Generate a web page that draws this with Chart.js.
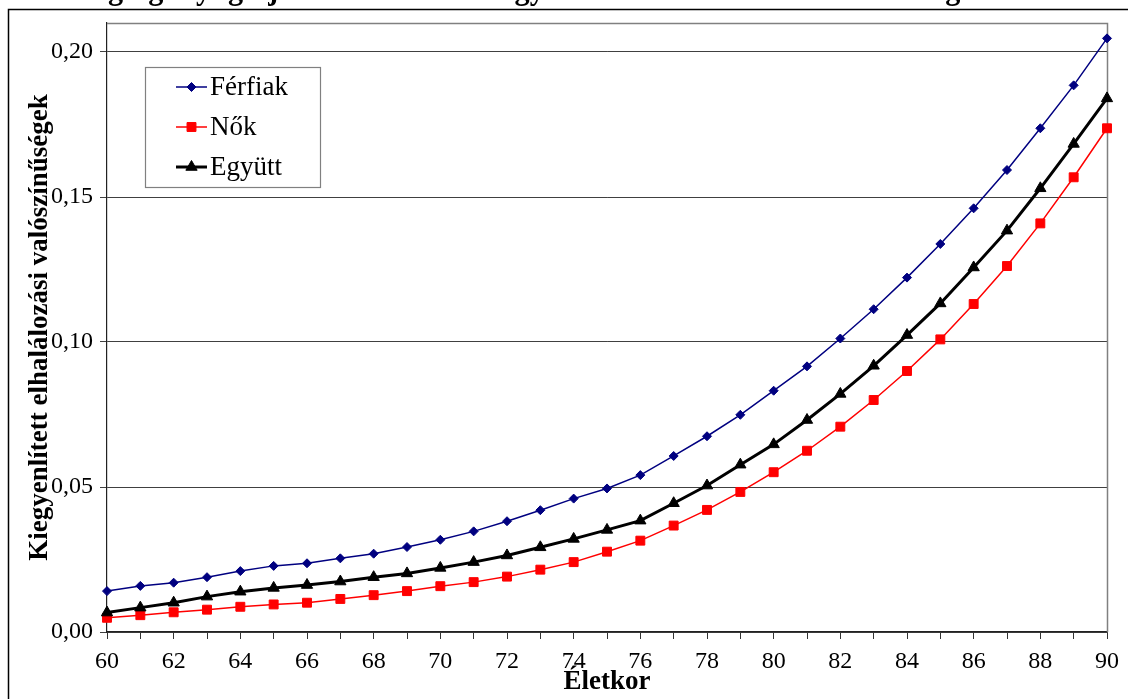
<!DOCTYPE html>
<html>
<head>
<meta charset="utf-8">
<script src="https://cdn.jsdelivr.net/npm/chart.js@4.4.1/dist/chart.umd.min.js"></script>
<style>
  html, body { margin: 0; padding: 0; background: #fff; overflow: hidden; width: 1128px; height: 699px; }
  #wrap { position: absolute; left: 0; top: -20px; width: 1128px; height: 719px; }
</style>
</head>
<body>
<div id="wrap"><canvas id="c"></canvas></div>
<script>
const titleText = 'Az öregségi nyugdíjban részesülők kiegyenlített elhalálozási valószínűségei 2014-ben';
const xTitle = 'Életkor';
const yTitle = 'Kiegyenlített elhalálozási valószínűségek';
const seriesNames = ['Férfiak', 'Nők', 'Együtt'];
const ages = [60,61,62,63,64,65,66,67,68,69,70,71,72,73,74,75,76,77,78,79,80,81,82,83,84,85,86,87,88,89,90];
const ferfiak = [0.0141,0.0159,0.0170,0.0189,0.0210,0.0228,0.0237,0.0254,0.0270,0.0293,0.0318,0.0347,0.0382,0.0420,0.0460,0.0495,0.0541,0.0607,0.0675,0.0749,0.0832,0.0916,0.1012,0.1113,0.1222,0.1338,0.1461,0.1593,0.1737,0.1885,0.2047];
const nok = [0.0049,0.0058,0.0068,0.0077,0.0087,0.0095,0.0101,0.0114,0.0127,0.0141,0.0158,0.0172,0.0191,0.0215,0.0241,0.0277,0.0315,0.0367,0.0421,0.0483,0.0551,0.0625,0.0708,0.0800,0.0900,0.1009,0.1131,0.1262,0.1409,0.1568,0.1737];
const egyutt = [0.0067,0.0084,0.0101,0.0122,0.0139,0.0152,0.0162,0.0174,0.0189,0.0202,0.0221,0.0241,0.0264,0.0292,0.0321,0.0352,0.0384,0.0444,0.0505,0.0577,0.0647,0.0731,0.0821,0.0918,0.1024,0.1133,0.1257,0.1384,0.1530,0.1683,0.1840];
const yTickValues = [0, 0.05, 0.10, 0.15, 0.20];

const FONT = "'Liberation Serif', 'Times New Roman', serif";
Chart.defaults.font.family = FONT;
Chart.defaults.color = '#000';

const toPts = arr => ages.map((a, i) => ({x: a, y: arr[i]}));

const TITLE_SIZE = 33;
const TITLE_PAD_TOP = -9;

const frame = {
  id: 'frame',
  beforeDraw(chart) {
    const ctx = chart.ctx;
    ctx.save();
    ctx.strokeStyle = '#000';
    ctx.lineWidth = 1.5;
    ctx.strokeRect(8.5, 29.5, 1300, 900);
    ctx.restore();
  },
  beforeDatasetsDraw(chart) {
    const {ctx, chartArea: a} = chart;
    ctx.save();
    ctx.strokeStyle = '#808080';
    ctx.lineWidth = 1.5;
    ctx.beginPath();
    ctx.moveTo(a.left, a.top + 0.5);
    ctx.lineTo(a.right + 0.5, a.top + 0.5);
    ctx.lineTo(a.right + 0.5, a.bottom);
    ctx.stroke();
    ctx.restore();
  }
};

const boxLegend = {
  id: 'boxLegend',
  afterDraw(chart) {
    const ctx = chart.ctx;
    const bx = 145.5, by = 87.5, bw = 175, bh = 120;
    ctx.save();
    ctx.fillStyle = '#fff';
    ctx.fillRect(bx, by, bw, bh);
    ctx.strokeStyle = '#808080';
    ctx.lineWidth = 1.2;
    ctx.strokeRect(bx, by, bw, bh);
    chart.data.datasets.forEach((ds, i) => {
      const y = 107 + i * 40;
      ctx.strokeStyle = ds.borderColor;
      ctx.lineWidth = ds.borderWidth;
      ctx.beginPath();
      ctx.moveTo(176, y);
      ctx.lineTo(207, y);
      ctx.stroke();
      ctx.fillStyle = ds.pointBackgroundColor;
      ctx.strokeStyle = ds.borderColor;
      ctx.lineWidth = 1;
      Chart.helpers.drawPoint(ctx, {pointStyle: ds.pointStyle, radius: ds.pointRadius, borderWidth: 1}, 191.5, y);
      ctx.fillStyle = '#000';
      ctx.font = '27px ' + FONT;
      ctx.textAlign = 'left';
      ctx.textBaseline = 'middle';
      ctx.fillText(ds.label, 210, y + 1);
    });
    ctx.restore();
  }
};

new Chart(document.getElementById('c'), {
  type: 'line',
  data: {
    datasets: [
      { label: seriesNames[0], data: toPts(ferfiak), borderColor: '#000080', backgroundColor: '#000080', pointBackgroundColor: '#000080',
        borderWidth: 1.5, pointStyle: 'rectRot', pointRadius: 4.5, pointBorderWidth: 1, tension: 0, clip: false, order: 2 },
      { label: seriesNames[1], data: toPts(nok), borderColor: '#ff0000', backgroundColor: '#ff0000', pointBackgroundColor: '#ff0000',
        borderWidth: 1.5, pointStyle: 'rect', pointRadius: 6.3, pointBorderWidth: 1, tension: 0, clip: false, order: 1 },
      { label: seriesNames[2], data: toPts(egyutt), borderColor: '#000000', backgroundColor: '#000000', pointBackgroundColor: '#000000',
        borderWidth: 3, pointStyle: 'triangle', pointRadius: 6.5, pointBorderWidth: 1, tension: 0, clip: false, order: 0 }
    ]
  },
  options: {
    responsive: true,
    maintainAspectRatio: false,
    animation: false,
    layout: { padding: { left: 24, right: 21, top: 0, bottom: 1 } },
    plugins: {
      legend: { display: false },
      tooltip: { enabled: false },
      title: { display: true, text: titleText, font: { size: TITLE_SIZE, weight: 'bold', family: FONT }, color: '#000',
               padding: { top: TITLE_PAD_TOP, bottom: 43 - TITLE_PAD_TOP - TITLE_SIZE * 1.2 } }
    },
    scales: {
      x: {
        type: 'linear', min: 60, max: 90,
        afterFit(s) { s.height = 66; },
        ticks: { stepSize: 1, autoSkip: false, maxRotation: 0, padding: 8, font: { size: 24 }, color: '#000',
                 callback: v => (v % 2 === 0 ? String(v) : '') },
        grid: { drawOnChartArea: false, drawTicks: true, tickLength: 7, color: '#333', lineWidth: 1 },
        border: { color: '#222', width: 1.2 },
        title: { display: true, text: xTitle, font: { size: 27, weight: 'bold' }, color: '#000', padding: 0 }
      },
      y: {
        min: 0, max: 0.21,
        afterFit(s) { s.width = 83; },
        afterBuildTicks(s) { s.ticks = yTickValues.map(v => ({ value: v })); },
        ticks: { includeBounds: false, padding: 7, font: { size: 24 }, color: '#000',
                 callback: v => Number(v).toFixed(2).replace('.', ',') },
        grid: { drawTicks: true, tickLength: 7, color: '#404040', lineWidth: 1 },
        border: { color: '#222', width: 1.2 },
        title: { display: true, text: yTitle, font: { size: 27, weight: 'bold' }, color: '#000', padding: 0 }
      }
    }
  },
  plugins: [frame, boxLegend]
});
</script>
</body>
</html>
